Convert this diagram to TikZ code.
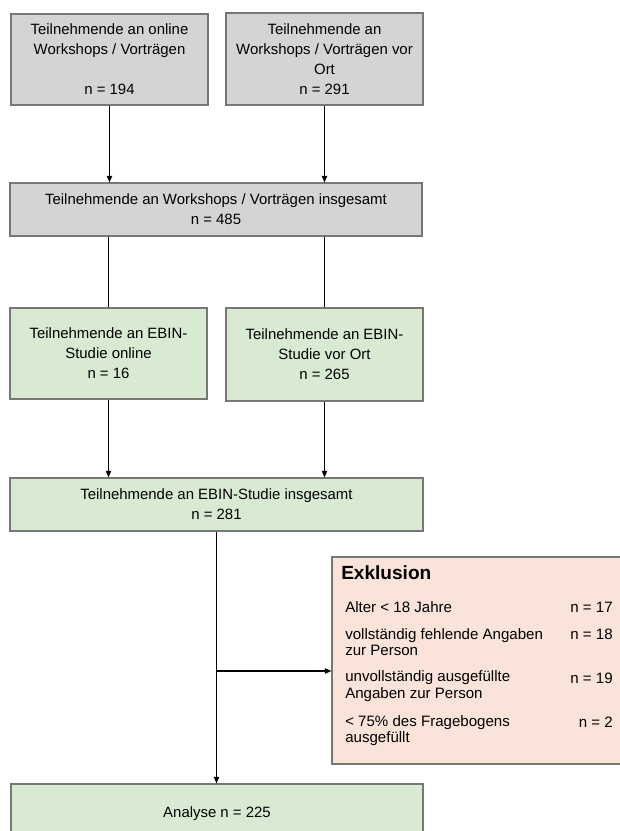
\documentclass[tikz,border=0pt]{standalone}
\usepackage{fontspec}
\setmainfont{Liberation Sans}
\usetikzlibrary{arrows.meta,calc}
\definecolor{boxgray}{HTML}{D4D4D4}
\definecolor{boxgreen}{HTML}{D9EAD3}
\definecolor{boxpeach}{HTML}{FAE3D8}
\definecolor{edgegray}{HTML}{777777}
\begin{document}
\begin{tikzpicture}[x=0.75pt,y=-0.75pt,
  box/.style={draw=edgegray,line width=0.8pt,inner sep=0pt,align=center,
    font=\fontsize{11.2}{15}\selectfont,execute at begin node={\rule{0pt}{11.5pt}}},
  graybox/.style={box,fill=boxgray},
  greenbox/.style={box,fill=boxgreen},
  exbox/.style={draw=edgegray,line width=0.8pt,fill=boxpeach,inner sep=0pt},
  conn/.style={line width=0.9pt,black},
  arr/.style={conn,-{Triangle[length=5pt,width=4pt]}},
  extext/.style={font=\fontsize{11.3}{12.4}\selectfont,align=left,inner sep=0pt},
  exhead/.style={font=\bfseries\fontsize{14.3}{16}\selectfont,inner sep=0pt},
  ]
\useasboundingbox (0,0) rectangle (620,831);

% top row
\node[graybox,minimum width=147.75pt,minimum height=68.25pt] (b1) at (109.5,59.5)
  {Teilnehmende an online\\Workshops / Vorträgen\\[15pt]n = 194};
\node[graybox,minimum width=147.75pt,minimum height=69pt] (b2) at (324.5,59)
  {Teilnehmende an\\Workshops / Vorträgen vor\\Ort\\n = 291};
\node[graybox,minimum width=309pt,minimum height=39.75pt] (b3) at (216,209.5)
  {Teilnehmende an Workshops / Vorträgen insgesamt\\n = 485};

% EBIN
\node[greenbox,minimum width=147.75pt,minimum height=68.25pt] (b4) at (108.5,353.5)
  {Teilnehmende an EBIN-\\Studie online\\n = 16};
\node[greenbox,minimum width=147.75pt,minimum height=69.75pt] (b5) at (324.5,354.5)
  {Teilnehmende an EBIN-\\Studie vor Ort\\n = 265};
\node[greenbox,minimum width=309.75pt,minimum height=39.75pt] (b6) at (216.5,504.5)
  {Teilnehmende an EBIN-Studie insgesamt\\n = 281};

% exclusion
\node[exbox,minimum width=231pt,minimum height=155.25pt] (ex) at (486,660.5) {};
\node[exhead,anchor=west] (exT) at (341,573) {Exklusion};
\node[extext,anchor=west] (e1) at (345,607) {Alter < 18 Jahre};
\node[extext,anchor=west] (e2) at (345,642) {vollständig fehlende Angaben\\zur Person};
\node[extext,anchor=west] (e3) at (345,686) {unvollständig ausgefüllte\\Angaben zur Person};
\node[extext,anchor=west] (e4) at (345,730.5) {< 75\% des Fragebogens\\ausgefüllt};
\node[extext,anchor=east] (n1) at (613,607) {n = 17};
\node[extext,anchor=east] (n2) at (613,634) {n = 18};
\node[extext,anchor=east] (n3) at (613,678) {n = 19};
\node[extext,anchor=east] (n4) at (613,722) {n = 2};

% analyse
\node[greenbox,minimum width=309pt,minimum height=40.5pt] (an) at (217,811) {Analyse n = 225};

% connectors
\draw[arr] (b1.south) -- (b1.south |- b3.north);
\draw[arr] (b2.south) -- (b2.south |- b3.north);
\draw[conn] (b4.north |- b3.south) -- (b4.north);
\draw[conn] (b5.north |- b3.south) -- (b5.north);
\draw[arr] (b4.south) -- (b4.south |- b6.north);
\draw[arr] (b5.south) -- (b5.south |- b6.north);
\coordinate (br) at (b6.south |- 0,671);
\draw[arr] (b6.south) -- (b6.south |- an.north);
\draw[arr] (br) -- (br -| ex.west);
\end{tikzpicture}
\end{document}
